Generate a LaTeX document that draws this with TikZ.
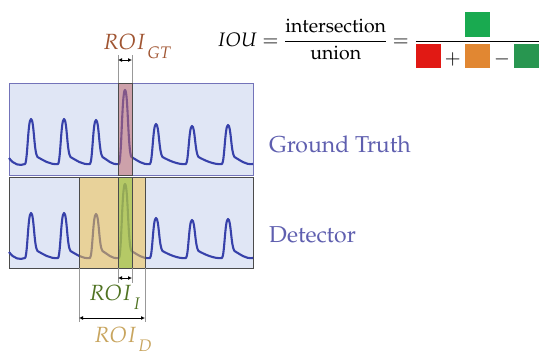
\documentclass[tikz,border=0pt]{standalone}
\usepackage[T1]{fontenc}
\usepackage{mathpazo}
\usepackage{amsmath}
\usepackage{xcolor}
\usetikzlibrary{arrows.meta,positioning,calc}

\definecolor{boxfill}{RGB}{224,230,245}
\definecolor{gtedge}{RGB}{115,115,185}
\definecolor{darkedge}{RGB}{75,75,75}
\definecolor{sigblue}{RGB}{55,65,170}
\definecolor{labelblue}{RGB}{95,95,175}
\definecolor{gtred}{RGB}{190,105,110}
\definecolor{detyellow}{RGB}{240,195,80}
\definecolor{intgreen}{RGB}{140,195,60}
\definecolor{gtbrown}{RGB}{160,85,50}
\definecolor{intlabel}{RGB}{80,115,35}
\definecolor{detlabel}{RGB}{200,165,95}
\definecolor{sqgreen}{RGB}{25,170,80}
\definecolor{sqred}{RGB}{225,25,20}
\definecolor{sqorange}{RGB}{225,135,50}
\definecolor{sqdkgreen}{RGB}{40,150,80}

\newcommand{\sqbox}[1]{\textcolor{#1}{\rule[-0.2em]{1.3em}{1.25em}}}
\newcommand{\roisub}[1]{ROI_{\,\raisebox{-0.3em}{$\scriptstyle #1$}}}

\tikzset{
    sigbox/.style={rectangle, draw, line width=0.8pt, fill=boxfill, inner sep=0pt, outer sep=0pt},
    band/.style={rectangle, draw=darkedge, line width=0.8pt, fill opacity=0.55, inner sep=0pt, outer sep=0pt},
    signal/.style={draw=sigblue, line width=2.1pt, line join=round},
    guide/.style={draw=gray!80, line width=0.5pt},
    span/.style={<->, >={Latex[length=4pt,width=4pt]}, line width=0.9pt},
    biglabel/.style={font=\fontsize{23}{27}\selectfont, text=labelblue, inner sep=0pt},
    roilabel/.style={font=\fontsize{22}{26}\selectfont, inner sep=0pt}
}

\begin{document}
\begin{tikzpicture}[x=1pt, y=-1pt]
    \useasboundingbox (0,0) rectangle (550,360);

    % Signal boxes
    \node[sigbox, draw=gtedge, minimum width=244pt, minimum height=92pt] (gtbox) at (131,129) {};
    \node[sigbox, draw=darkedge, minimum width=244pt, minimum height=91pt] (detbox) at (131,222.5) {};

    % Pulse signal, same trace in both boxes
    \foreach \dy in {0,94} {
        \draw[signal, shift={(0,\dy)}] (9,158) .. controls (14,165) and (20,166) .. (25,164)
            foreach \px/\p/\e in {31/119/58, 64/119/90, 96/120/119, 125/90/150, 156/124/186, 192/126/222, 228/125/253} {
                .. controls ({\px-3.5},162) and ({\px-3},\p) .. (\px,\p)
                .. controls ({\px+3},\p) and ({\px+3},153) .. ({\px+6.5},157)
                .. controls ({\px+12},160) and ({\e-8},165) .. (\e,164)
            };
    }

    % Regions of interest
    \node[band, fill=gtred, minimum width=14pt, minimum height=92pt] (gtband) at (125,129) {};
    \node[band, fill=detyellow, minimum width=66pt, minimum height=91pt] (detband) at (112,222.5) {};
    \node[band, fill=intgreen, minimum width=14pt, minimum height=91pt] (intband) at (125,222.5) {};

    % Guide lines
    \coordinate (gtL) at (118,55);
    \coordinate (gtR) at (132,55);
    \coordinate (intL) at (118,283);
    \coordinate (intR) at (132,283);
    \coordinate (detL) at (79,322);
    \coordinate (detR) at (145,322);
    \draw[guide] (gtband.north west) -- (gtL);
    \draw[guide] (gtband.north east) -- (gtR);
    \draw[guide] (intband.south west) -- (intL);
    \draw[guide] (intband.south east) -- (intR);
    \draw[guide] (detband.south west) -- (detL);
    \draw[guide] (detband.south east) -- (detR);

    % Widths
    \draw[span] ($(gtL)+(0,5)$) -- ($(gtR)+(0,5)$);
    \draw[span] ($(intL)+(0,-5)$) -- ($(intR)+(0,-5)$);
    \draw[span] ($(detL)+(0,-4)$) -- ($(detR)+(0,-4)$);

    % Labels
    \node[roilabel, text=gtbrown, anchor=base west] (gtlabel) at (103,49) {$\roisub{GT}$};
    \node[roilabel, text=intlabel, anchor=base west] (intlabel) at (89,300) {$\roisub{I}$};
    \node[roilabel, text=detlabel, anchor=base west] (detlabel) at (94,342) {$\roisub{D}$};
    \node[biglabel, anchor=base west] (gtname) at (269,152) {Ground Truth};
    \node[biglabel, anchor=base west] (detname) at (269,242) {Detector};

    % IOU formula
    \node[font=\fontsize{19.5}{23}\selectfont, inner sep=0pt, anchor=base west] (iou) at (217,46)
        {$IOU=\dfrac{\text{intersection}}{\text{union}}=\dfrac{\sqbox{sqgreen}}{\sqbox{sqred}+\sqbox{sqorange}-\sqbox{sqdkgreen}}$};
\end{tikzpicture}
\end{document}
